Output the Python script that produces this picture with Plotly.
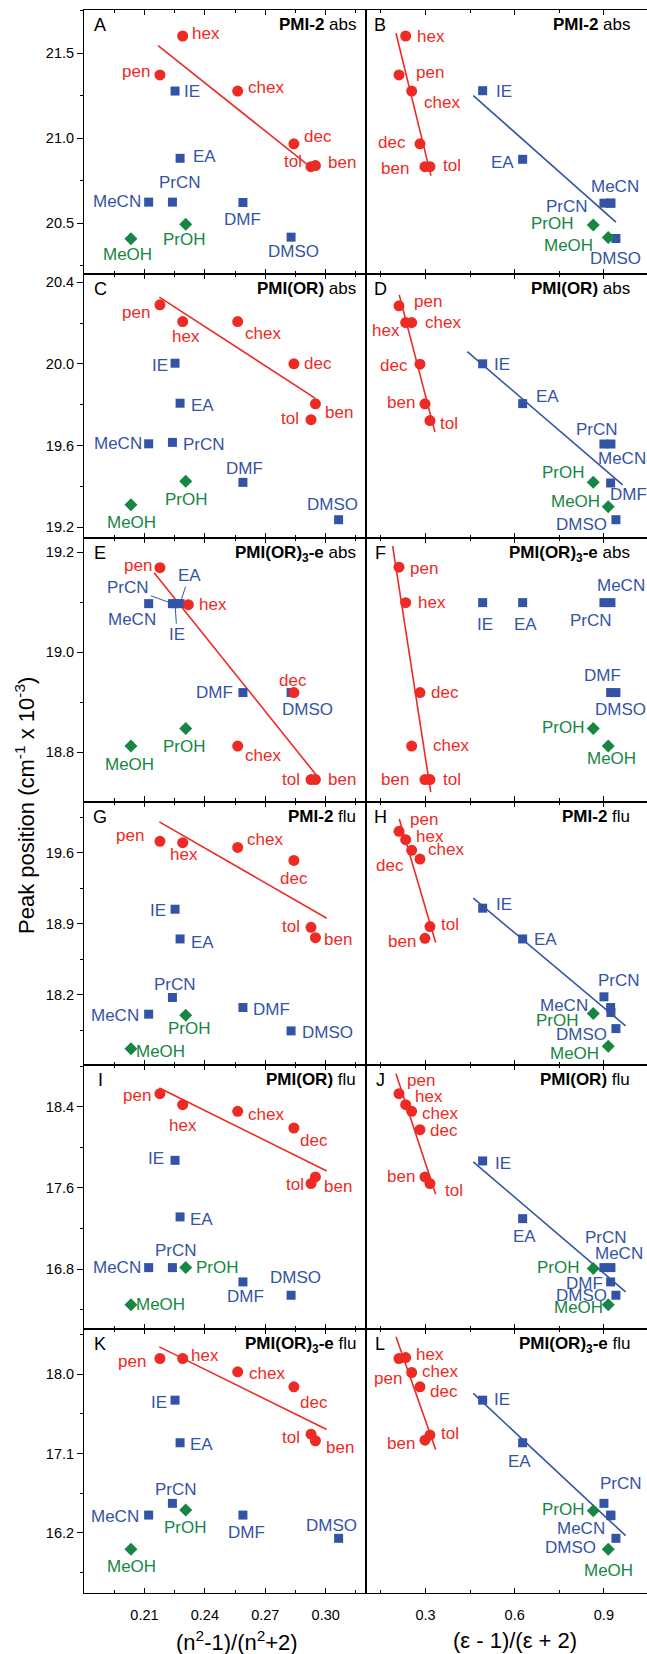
import plotly.graph_objects as go
from plotly.subplots import make_subplots

# ---------------- data ----------------
solvents = ["pen", "hex", "chex", "dec", "tol", "ben", "IE", "EA", "PrCN", "MeCN", "DMF", "DMSO", "PrOH", "MeOH"]
solvent_class = ["nonpolar"] * 6 + ["aprotic"] * 6 + ["protic"] * 2

# (n^2-1)/(n^2+2)
refr_x = [0.2177, 0.2290, 0.2563, 0.2842, 0.2927, 0.2949, 0.2252, 0.2277, 0.2239, 0.2121, 0.2589, 0.2828, 0.2305, 0.2033]
refr_x_override = {"C": {"DMSO": 0.3064}, "E": {"hex": 0.2318}, "K": {"DMSO": 0.3064}}
# (eps-1)/(eps+2)
diel_x = [0.2109, 0.2334, 0.2536, 0.2815, 0.3151, 0.2983, 0.4923, 0.6268, 0.9002, 0.9237, 0.9227, 0.9405, 0.8643, 0.9147]

# peak positions (cm^-1 x 10^-3), order as in `solvents`
peak_A = [21.373, 21.602, 21.278, 20.967, 20.833, 20.839, 21.278, 20.882, 20.624, 20.624, 20.622, 20.418, 20.494, 20.408]
peak_B = [21.373, 21.602, 21.278, 20.967, 20.833, 20.833, 21.280, 20.876, 20.618, 20.618, 20.618, 20.410, 20.490, 20.416]
peak_C = [20.289, 20.207, 20.207, 20.000, 19.726, 19.804, 20.003, 19.807, 19.615, 19.608, 19.419, 19.236, 19.424, 19.309]
peak_D = [20.284, 20.202, 20.202, 19.998, 19.722, 19.804, 20.000, 19.805, 19.607, 19.607, 19.416, 19.236, 19.420, 19.300]
peak_E = [19.169, 19.095, 18.812, 18.919, 18.745, 18.745, 19.097, 19.097, 19.097, 19.097, 18.919, 18.919, 18.847, 18.812]
peak_F = [19.170, 19.099, 18.812, 18.919, 18.745, 18.745, 19.099, 19.099, 19.099, 19.099, 18.919, 18.919, 18.847, 18.812]
peak_G = [19.714, 19.700, 19.654, 19.526, 18.867, 18.765, 19.045, 18.752, 18.175, 18.011, 18.077, 17.846, 18.001, 17.671]
peak_H = [19.812, 19.730, 19.625, 19.539, 18.874, 18.758, 19.055, 18.752, 18.182, 18.027, 18.077, 17.869, 18.017, 17.694]
peak_I = [18.528, 18.420, 18.354, 18.190, 17.643, 17.708, 17.872, 17.315, 16.816, 16.816, 16.675, 16.544, 16.816, 16.450]
peak_J = [18.528, 18.420, 18.354, 18.174, 17.643, 17.708, 17.866, 17.298, 16.816, 16.816, 16.675, 16.544, 16.807, 16.450]
peak_K = [18.178, 18.178, 18.027, 17.856, 17.319, 17.244, 17.705, 17.221, 16.533, 16.400, 16.400, 16.136, 16.457, 16.011]
peak_L = [18.178, 18.189, 18.019, 17.856, 17.308, 17.251, 17.705, 17.221, 16.533, 16.393, 16.400, 16.136, 16.450, 16.011]

panel_names = ["A", "B", "C", "D", "E", "F", "G", "H", "I", "J", "K", "L"]
peaks = {"A": peak_A, "B": peak_B, "C": peak_C, "D": peak_D, "E": peak_E, "F": peak_F,
         "G": peak_G, "H": peak_H, "I": peak_I, "J": peak_J, "K": peak_K, "L": peak_L}

row_titles = ["<b>PMI-2</b> abs", "<b>PMI(OR)</b> abs", "<b>PMI(OR)<sub>3</sub>-e</b> abs",
              "<b>PMI-2</b> flu", "<b>PMI(OR)</b> flu", "<b>PMI(OR)<sub>3</sub>-e</b> flu"]

# linear fits (end points)
red_fit_x = {"A": [0.2168, 0.2942], "B": [0.2008, 0.3185], "C": [0.2174, 0.2947], "D": [0.2119, 0.3319],
             "E": [0.2148, 0.2955], "F": [0.1897, 0.3177], "G": [0.2174, 0.3005], "H": [0.2119, 0.3343],
             "I": [0.2174, 0.3005], "J": [0.2008, 0.3343], "K": [0.2174, 0.3005], "L": [0.2008, 0.3343]}
red_fit_y = {"A": [21.545, 20.814], "B": [21.618, 20.780], "C": [20.327, 19.832], "D": [20.338, 19.665],
             "E": [19.159, 18.753], "F": [19.212, 18.720], "G": [19.905, 18.956], "H": [19.934, 18.716],
             "I": [18.584, 17.767], "J": [18.725, 17.538], "K": [18.310, 17.372], "L": [18.424, 17.145]}
blue_fit_x = {"B": [0.4608, 0.9405], "D": [0.4406, 0.9631], "H": [0.4608, 0.9732],
              "J": [0.4608, 0.9732], "L": [0.4608, 0.9732]}
blue_fit_y = {"B": [21.251, 20.506], "D": [20.060, 19.407], "H": [19.154, 17.895],
              "J": [17.856, 16.577], "L": [17.781, 16.166]}

y_ranges = [[20.202, 21.755], [19.148, 20.441], [18.701, 19.229], [17.507, 20.106], [16.21, 18.807], [15.515, 18.511]]
y_tick0 = [20.5, 19.2, 18.8, 18.2, 16.8, 16.2]
y_dtick = [0.5, 0.4, 0.2, 0.7, 0.8, 0.9]
refr_ticks = [0.21, 0.24, 0.27, 0.30]
diel_ticks = [0.3, 0.6, 0.9]

# ---------------- style ----------------
FONT = "Liberation Sans, Arial, sans-serif"
colors = {"nonpolar": "#EE2A25", "aprotic": "#3354A6", "protic": "#168642"}
symbols = {"nonpolar": "circle", "aprotic": "square", "protic": "diamond"}
msizes = {"nonpolar": 11, "aprotic": 9, "protic": 10}

# label pixel offsets (dx, dy; dy down), None = no label, "L" tuple = leader line
label_offsets = {
    "A": [(-24, -3), (23, -2), (28, -4), (24, -7), (-18, -5), (27, -3), (17, 0), (24, -2), (8, -20), (-32, -1), (0, 17), (2, 14), (-1, 15), (-3, 16)],
    "B": [(31, -2), (25, 1), (30, 11), (-28, -1), (22, -1), (-30, 2), (21, 1), (-20, 3), (-37, 3), (4, -17), None, (0, 20), (-41, -1), (-40, 8)],
    "C": [(-24, 8), (3, 15), (25, 12), (24, 0), (-21, -1), (24, 9), (-15, 2), (22, 2), (32, 2), (-31, 0), (2, -14), (-6, -15), (1, 18), (1, 18)],
    "D": [(29, -4), (-20, 8), (31, 0), (-26, 1), (19, 3), (-24, -1), (19, 1), (25, -7), (-7, -15), (11, 14), (18, 12), (-34, 5), (-30, -10), (-33, -5)],
    "E": [(-22, -2), (25, 0), (25, 9), (-1, -12), (-20, 0), (27, 0), ("L", 2, 31), ("L", 9, -28), ("L", -44, -16), (-17, 16), (-28, 0), (16, 17), (-1, 18), (-1, 18)],
    "F": [(25, 1), (26, 0), (39, -1), (25, 0), (22, 0), (-30, 0), (2, 22), (3, 22), (-13, 18), (10, -17), (-8, -17), (5, 17), (-30, -1), (3, 12)],
    "G": [(-30, -6), (1, 12), (27, -8), (0, 18), (-20, -1), (23, 2), (-17, 1), (22, 4), (3, -13), (-34, 1), (29, 2), (36, 2), (4, 13), (30, 3)],
    "H": [(25, -12), (24, -3), (34, -1), (-30, 6), (20, -2), (-23, 3), (21, -4), (23, 1), (15, -16), (-47, -7), None, (-34, 6), (-36, 7), (-34, 7)],
    "I": [(-23, 2), (0, 21), (28, 3), (20, 12), (-16, 1), (23, 10), (-19, -2), (21, 3), (4, -17), (-32, 0), (3, 15), (4, -18), (32, 0), (30, 0)],
    "J": [(22, -13), (23, -8), (28, 2), (24, 1), (24, 7), (-24, 0), (20, 3), (2, 18), (2, -30), (8, -14), (-26, 2), (-34, 0), (-35, -1), (-30, 3)],
    "K": [(-28, 3), (22, -3), (29, 2), (20, 16), (-20, 3), (25, 7), (-16, 2), (21, 2), (4, -14), (-34, 1), (4, 17), (-7, -13), (0, 17), (1, 17)],
    "L": [(-11, 20), (24, -3), (28, -1), (24, 5), (20, -2), (-24, 3), (19, -1), (-3, 19), (17, -20), (-30, 13), None, (-45, 9), (-30, -1), (0, 21)],
}

# ---------------- figure ----------------
W, H = 647, 1654
ML, MR, MT, MB = 84, 0, 10, 61
PW, PH = W - ML - MR, H - MT - MB
row_tops = [10, 274, 538, 802, 1065, 1329]


def pxx(x):
    return (x - ML) / PW


def pxy(y):
    return (H - MB - y) / PH


fig = make_subplots(rows=6, cols=2, horizontal_spacing=0, vertical_spacing=0, column_widths=[282, 281])
annotations = []

for i, name in enumerate(panel_names):
    r, c = i // 2 + 1, i % 2 + 1
    ys = peaks[name]
    if c == 1:
        ov = refr_x_override.get(name, {})
        xs = [ov.get(s, v) for s, v in zip(solvents, refr_x)]
    else:
        xs = list(diel_x)

    fig.add_trace(go.Scatter(x=red_fit_x[name], y=red_fit_y[name], mode="lines",
                             line=dict(color=colors["nonpolar"], width=1.6), hoverinfo="skip"), row=r, col=c)
    if name in blue_fit_x:
        fig.add_trace(go.Scatter(x=blue_fit_x[name], y=blue_fit_y[name], mode="lines",
                                 line=dict(color=colors["aprotic"], width=1.6), hoverinfo="skip"), row=r, col=c)

    for cls in ["aprotic", "protic", "nonpolar"]:
        idx = [k for k in range(len(solvents)) if solvent_class[k] == cls]
        fig.add_trace(go.Scatter(x=[xs[k] for k in idx], y=[ys[k] for k in idx], mode="markers",
                                 marker=dict(color=colors[cls], symbol=symbols[cls], size=msizes[cls],
                                             line=dict(width=0)),
                                 cliponaxis=False, text=[solvents[k] for k in idx]), row=r, col=c)

    axn = i + 1
    xref = "x" if axn == 1 else f"x{axn}"
    yref = "y" if axn == 1 else f"y{axn}"
    for k, s in enumerate(solvents):
        off = label_offsets[name][k]
        if off is None:
            continue
        col = colors[solvent_class[k]]
        if off[0] == "L":
            annotations.append(dict(x=xs[k], y=ys[k], xref=xref, yref=yref, text=s,
                                    showarrow=True, ax=off[1], ay=off[2], arrowhead=0, arrowwidth=1,
                                    arrowcolor=col, standoff=4, font=dict(family=FONT, size=17, color=col)))
        else:
            annotations.append(dict(x=xs[k], y=ys[k], xref=xref, yref=yref, text=s, showarrow=False,
                                    xshift=off[0], yshift=-off[1], xanchor="center", yanchor="middle",
                                    font=dict(family=FONT, size=17, color=col)))

    top = row_tops[r - 1]
    lx = 100 if c == 1 else 380
    annotations.append(dict(x=pxx(lx), y=pxy(top + 3), xref="paper", yref="paper", text=name,
                            showarrow=False, xanchor="center", yanchor="top",
                            font=dict(family=FONT, size=18, color="black")))
    tx = 358 if c == 1 else 632
    annotations.append(dict(x=pxx(tx), y=pxy(top + 3), xref="paper", yref="paper", text=row_titles[r - 1],
                            showarrow=False, xanchor="right", yanchor="top",
                            font=dict(family=FONT, size=17, color="black")))

    # axes
    if c == 1:
        fig.update_xaxes(range=[0.18, 0.32], tickmode="array", tickvals=refr_ticks, tickformat=".2f",
                         minor=dict(ticks="inside", ticklen=3, tickwidth=1.2, tick0=0.195, dtick=0.03, tickcolor="black"),
                         row=r, col=c)
    else:
        fig.update_xaxes(range=[0.1, 1.045], tickmode="array", tickvals=diel_ticks, tickformat=".1f",
                         minor=dict(ticks="inside", ticklen=3, tickwidth=1.2, tick0=0.15, dtick=0.3, tickcolor="black"),
                         row=r, col=c)
    fig.update_xaxes(showline=True, linecolor="black", linewidth=1.1, mirror="ticks", ticks="inside",
                     ticklen=5, tickwidth=1.2, tickcolor="black", showgrid=False, zeroline=False,
                     showticklabels=(r == 6), ticklabelstandoff=9,
                     tickfont=dict(family=FONT, size=14.5, color="black"), row=r, col=c)
    fig.update_yaxes(range=y_ranges[r - 1], tick0=y_tick0[r - 1], dtick=y_dtick[r - 1], tickformat=".1f",
                     showline=True, linecolor="black", linewidth=1.1, mirror=True,
                     ticks="outside" if c == 1 else "", ticklen=6, tickwidth=1.2, tickcolor="black",
                     minor=dict(ticks="outside" if c == 1 else "", ticklen=3, tickwidth=1.2, tickcolor="black",
                                tick0=y_tick0[r - 1] + y_dtick[r - 1] / 2, dtick=y_dtick[r - 1]),
                     showgrid=False, zeroline=False, showticklabels=(c == 1),
                     tickfont=dict(family=FONT, size=14.5, color="black"), row=r, col=c)

annotations.append(dict(x=pxx(25), y=pxy(806), xref="paper", yref="paper",
                        text="Peak position (cm<sup>-1</sup> x 10<sup>-3</sup>)", textangle=-90,
                        showarrow=False, xanchor="center", yanchor="middle",
                        font=dict(family=FONT, size=22, color="black")))
annotations.append(dict(x=pxx(237), y=pxy(1641), xref="paper", yref="paper",
                        text="(n<sup>2</sup>-1)/(n<sup>2</sup>+2)",
                        showarrow=False, xanchor="center", yanchor="middle",
                        font=dict(family=FONT, size=22, color="black")))
annotations.append(dict(x=pxx(515), y=pxy(1640), xref="paper", yref="paper",
                        text="(\u03b5 - 1)/(\u03b5 + 2)",
                        showarrow=False, xanchor="center", yanchor="middle",
                        font=dict(family=FONT, size=22, color="black")))

fig.update_layout(width=W, height=H, margin=dict(l=ML, r=MR, t=MT, b=MB, pad=0),
                  paper_bgcolor="white", plot_bgcolor="white", showlegend=False,
                  annotations=annotations, font=dict(family=FONT))

fig.write_html("out.html")
